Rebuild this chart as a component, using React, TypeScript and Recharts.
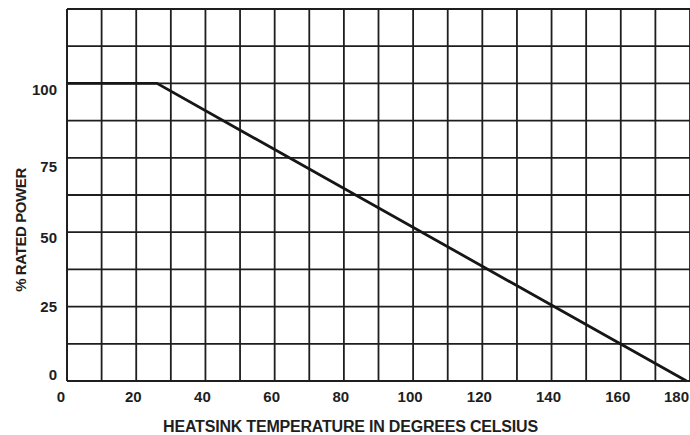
import React from 'react';
import { LineChart, Line, XAxis, YAxis, CartesianGrid } from 'recharts';

const temperatures = [0, 26, 179];
const ratedPower = [100, 100, 0];
const xTicks = [0, 10, 20, 30, 40, 50, 60, 70, 80, 90, 100, 110, 120, 130, 140, 150, 160, 170, 180];
const xLabels = [0, 20, 40, 60, 80, 100, 120, 140, 160, 180];
const yTicks = [0, 12.5, 25, 37.5, 50, 62.5, 75, 87.5, 100, 112.5, 125];
const yLabels = [0, 25, 50, 75, 100];

const data = temperatures.map((t, i) => ({ t, p: ratedPower[i] }));

const FONT = '"Liberation Sans", Arial, Helvetica, sans-serif';
const INK = '#1e1e1e';

const yLabelShift: Record<number, number> = { 0: -7, 25: 0, 50: 5, 75: 9, 100: 6 };

const XTick = (props: any) => {
  const { x, y, payload } = props;
  if (!xLabels.includes(payload.value)) return null;
  const last = payload.value === 180;
  const dx = payload.value === 0 ? -6 : -3;
  return (
    <text
      x={last ? 689 : x + dx}
      y={y + 21}
      textAnchor={last ? 'end' : 'middle'}
      fontFamily={FONT}
      fontWeight="bold"
      fontSize={15}
      fill={INK}
    >
      {payload.value}
    </text>
  );
};

const YTick = (props: any) => {
  const { x, y, payload } = props;
  if (!yLabels.includes(payload.value)) return null;
  return (
    <text x={x} y={y + 5.5 + (yLabelShift[payload.value] ?? 0)} textAnchor="end" fontFamily={FONT} fontWeight="bold" fontSize={15} fill={INK}>
      {payload.value}
    </text>
  );
};

const XTitle = (props: any) => {
  const vb = props.viewBox;
  return (
    <text x={vb.x + vb.width / 2 - 28} y={vb.y + 50.5} textAnchor="middle" fontFamily={FONT} fontWeight="bold" fontSize={16} letterSpacing={-0.2} fill={INK}>
      HEATSINK TEMPERATURE IN DEGREES CELSIUS
    </text>
  );
};

const YTitle = (props: any) => {
  const vb = props.viewBox;
  const cx = 26;
  const cy = vb.y + vb.height / 2 + 35;
  return (
    <text x={cx} y={cy} transform={`rotate(-90 ${cx} ${cy})`} textAnchor="middle" fontFamily={FONT} fontWeight="bold" fontSize={15} letterSpacing={-0.4} fill={INK}>
      % RATED POWER
    </text>
  );
};

export default function App() {
  return (
    <div style={{ position: 'absolute', left: 0, top: 0, width: 690, height: 435, background: '#fff' }}>
      <LineChart width={690} height={435} data={data} margin={{ top: 9, right: 0, left: 0, bottom: 24 }}>
        <CartesianGrid stroke={INK} strokeWidth={1.8} vertical horizontal />
        <XAxis
          dataKey="t"
          type="number"
          domain={[0, 180]}
          ticks={xTicks}
          interval={0}
          tickLine={false}
          tickSize={0}
          tickMargin={0}
          axisLine={{ stroke: INK, strokeWidth: 1.8 }}
          height={30}
          tick={<XTick />}
          label={<XTitle />}
        />
        <YAxis
          type="number"
          domain={[0, 125]}
          ticks={yTicks}
          interval={0}
          tickLine={false}
          tickSize={0}
          tickMargin={10}
          axisLine={{ stroke: INK, strokeWidth: 1.8 }}
          width={67}
          tick={<YTick />}
          label={<YTitle />}
        />
        <Line
          type="linear"
          dataKey="p"
          stroke="#161616"
          strokeWidth={2.8}
          dot={false}
          activeDot={false}
          isAnimationActive={false}
        />
      </LineChart>
    </div>
  );
}
